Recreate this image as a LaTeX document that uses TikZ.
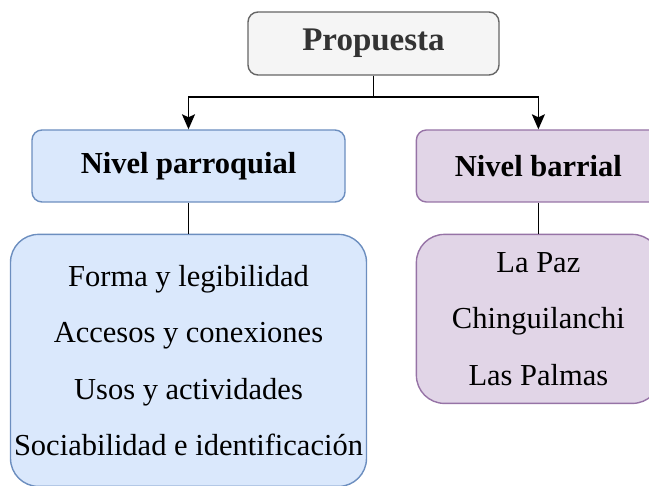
\documentclass[tikz,border=0pt]{standalone}
\usepackage{fontspec}
\setmainfont{Liberation Serif}
\usepackage{xcolor}
\definecolor{ink}{HTML}{000000}
\definecolor{propfill}{HTML}{F5F5F5}
\definecolor{propdraw}{HTML}{666666}
\definecolor{proptext}{HTML}{333333}
\definecolor{parfill}{HTML}{DAE8FC}
\definecolor{pardraw}{HTML}{6C8EBF}
\definecolor{barfill}{HTML}{E1D5E7}
\definecolor{bardraw}{HTML}{9673A6}
\usetikzlibrary{arrows.meta,positioning}

\begin{document}
\begin{tikzpicture}[x=1pt,y=-1pt,node distance=31pt and 70pt,every node/.style={font=\fontsize{30.5}{56.5}\selectfont}]
\tikzstyle{main}=[rounded corners=10pt,draw,line width=1.4pt,inner sep=0pt,align=center]
\tikzstyle{group}=[main,rounded corners=28pt]
\tikzstyle{conn}=[line width=1.7pt,ink]
\useasboundingbox (0,0) rectangle (649,486);
\node[main,draw=propdraw,fill=propfill,text=proptext,minimum width=251pt,minimum height=63pt,font=\fontsize{33}{40}\selectfont\bfseries] (prop) at (373.5,43.5) {Propuesta};
\node[main,draw=pardraw,fill=parfill,minimum width=313pt,minimum height=72pt,font=\fontsize{30.5}{36}\selectfont\bfseries] (par) at (188.5,166) {Nivel parroquial};
\node[main,draw=bardraw,fill=barfill,minimum width=244pt,minimum height=72pt,font=\fontsize{30.5}{36}\selectfont\bfseries,right=of par] (bar) {Nivel barrial};
\node[group,draw=pardraw,fill=parfill,minimum width=356pt,minimum height=252pt,below=of par] (parlist) {Forma y legibilidad\\Accesos y conexiones\\Usos y actividades\\Sociabilidad e identificación};
\node[group,draw=bardraw,fill=barfill,minimum width=244pt,minimum height=169pt,below=of bar] (barlist) {La Paz\\Chinguilanchi\\Las Palmas};
\draw[conn,-{Stealth[length=15pt,width=13pt,inset=3pt]}] (prop.south) -- ++(0,21) -| (par.north);
\draw[conn,-{Stealth[length=15pt,width=13pt,inset=3pt]}] (prop.south) -- ++(0,21) -| (bar.north);
\draw[conn] (par.south) -- (parlist.north);
\draw[conn] (bar.south) -- (barlist.north);
\end{tikzpicture}
\end{document}
